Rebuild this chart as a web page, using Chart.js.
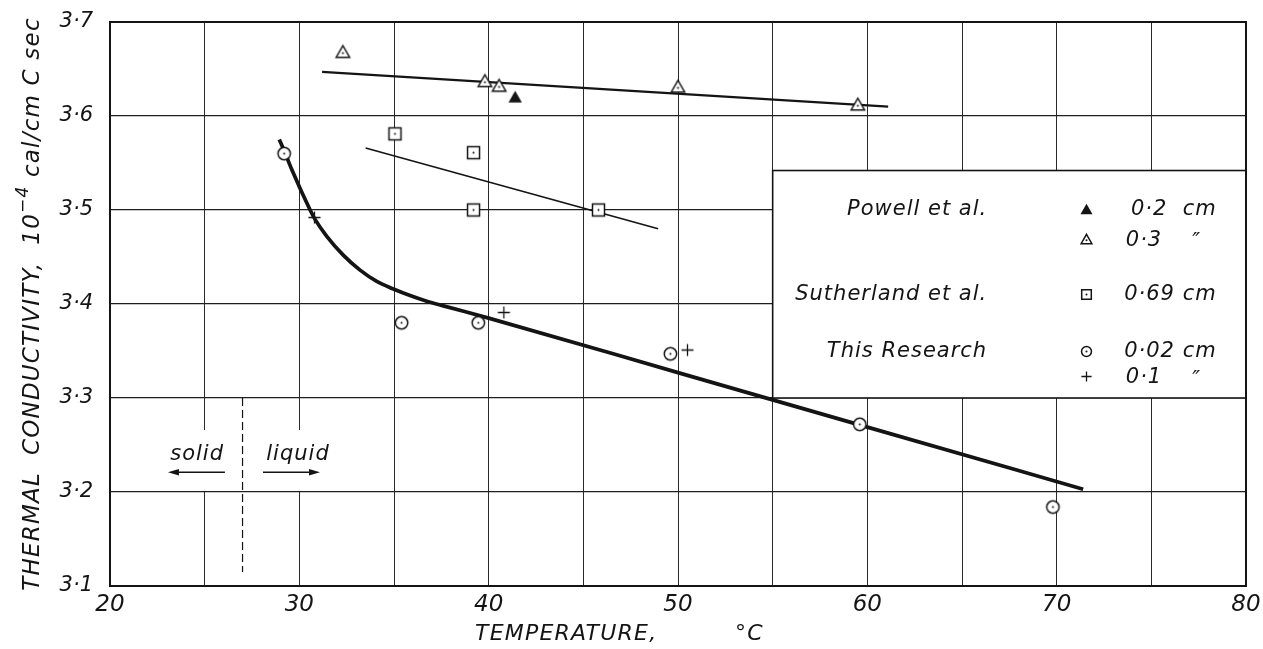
<!DOCTYPE html>
<html>
<head>
<meta charset="utf-8">
<script src="https://cdn.jsdelivr.net/npm/chart.js@4.4.1/dist/chart.umd.min.js"></script>
<style>
  html, body { margin: 0; padding: 0; background: #fff; }
  #wrap { width: 1263px; height: 649px; }
</style>
</head>
<body>
<div id="wrap"><canvas id="conductivityChart" width="1263" height="649"></canvas></div>
<script>
// temperature (C) vs thermal conductivity (10^-4 cal/cm C sec)
const powell03 = [[32.3, 3.668], [39.8, 3.637], [40.55, 3.632], [50.0, 3.631], [59.5, 3.612]];
const powell02 = [[41.4, 3.620]];
const sutherland069 = [[35.05, 3.581], [39.2, 3.561], [39.2, 3.500], [45.8, 3.500]];
const research002 = [[29.2, 3.560], [35.4, 3.380], [39.45, 3.380], [49.6, 3.347], [59.6, 3.272], [69.8, 3.184]];
const research01 = [[30.8, 3.492], [40.8, 3.391], [50.5, 3.351]];

// hand drawn fits
const powellFit = [[31.2, 3.647], [61.1, 3.610]];
const sutherlandFit = [[33.5, 3.566], [48.95, 3.480]];
const researchCurve = [[28.94, 3.575], [29.24, 3.561], [29.6, 3.543], [30.57, 3.500], [30.83, 3.490],
  [31.45, 3.472], [32.32, 3.452], [33.21, 3.436], [34.09, 3.424], [34.97, 3.416], [35.85, 3.409],
  [36.73, 3.403], [37.61, 3.398], [40, 3.385], [50, 3.327], [60, 3.269], [71.4, 3.203]];

const xTickLabels = ["20", "30", "40", "50", "60", "70", "80"];
const yTickLabels = ["3·1", "3·2", "3·3", "3·4", "3·5", "3·6", "3·7"];

const legendNames = ["Powell et al.", "Sutherland et al.", "This Research"];
const legendSizes = ["0·2  cm", "0·3", "0·69 cm", "0·02 cm", "0·1"];

const ink = "#141414";
const FAMILY = '"DejaVu Sans", sans-serif';

const toXY = arr => arr.map(p => ({ x: p[0], y: p[1] }));

// marker glyphs, drawn once onto small canvases
function makeMarker(kind, k) {
  const s = Math.ceil(18 * k) | 1;
  const c = document.createElement("canvas");
  c.width = s; c.height = s;
  const g = c.getContext("2d");
  const m = s / 2;
  g.strokeStyle = ink;
  g.fillStyle = "#fff";
  g.lineWidth = 1.5;
  g.beginPath();
  if (kind === "tri" || kind === "triFill") {
    g.moveTo(m, m - 6.5 * k);
    g.lineTo(m + 6.7 * k, m + 5.2 * k);
    g.lineTo(m - 6.7 * k, m + 5.2 * k);
    g.closePath();
  } else if (kind === "square") {
    g.rect(m - 6 * k, m - 6 * k, 12 * k, 12 * k);
  } else if (kind === "circle") {
    g.arc(m, m, 6.2 * k, 0, Math.PI * 2);
  }
  if (kind === "triFill") {
    g.fillStyle = ink;
    g.fill();
    return c;
  }
  if (kind === "cross") {
    g.lineWidth = 1.3;
    g.moveTo(m - 6 * k, m); g.lineTo(m + 6 * k, m);
    g.moveTo(m, m - 6 * k); g.lineTo(m, m + 6 * k);
    g.stroke();
    return c;
  }
  g.fill();
  g.stroke();
  // little dot in the middle
  g.fillStyle = ink;
  g.beginPath();
  g.arc(m, kind === "tri" ? m + 1 * k : m, 1, 0, Math.PI * 2);
  g.fill();
  return c;
}

const marks = {
  tri: makeMarker("tri", 1), triFill: makeMarker("triFill", 1), square: makeMarker("square", 1),
  circle: makeMarker("circle", 1), cross: makeMarker("cross", 1)
};
const keyMarks = {
  tri: makeMarker("tri", 0.8), triFill: makeMarker("triFill", 0.9), square: makeMarker("square", 0.8),
  circle: makeMarker("circle", 0.8), cross: makeMarker("cross", 0.85)
};

function arrow(ctx, x0, x1, yy) {
  const d = Math.sign(x1 - x0);
  ctx.beginPath();
  ctx.moveTo(x0, yy);
  ctx.lineTo(x1 - d * 6, yy);
  ctx.stroke();
  ctx.beginPath();
  ctx.moveTo(x1, yy);
  ctx.lineTo(x1 - d * 11, yy - 3.3);
  ctx.lineTo(x1 - d * 11, yy + 3.3);
  ctx.closePath();
  ctx.fill();
}

function putMark(ctx, img, cx, cy) {
  ctx.drawImage(img, Math.round(cx - img.width / 2), Math.round(cy - img.height / 2));
}

const paperDecor = {
  id: "paperDecor",
  beforeDraw(chart) {
    const ctx = chart.ctx;
    ctx.save();
    ctx.fillStyle = "#fff";
    ctx.fillRect(0, 0, chart.width, chart.height);
    ctx.restore();
  },
  beforeDatasetsDraw(chart) {
    const { ctx, scales: { x, y } } = chart;
    const px = v => x.getPixelForValue(v);
    const py = v => y.getPixelForValue(v);
    ctx.save();
    ctx.strokeStyle = ink;
    ctx.fillStyle = ink;

    // the grid is broken behind the solid / liquid note
    ctx.fillStyle = "#fff";
    ctx.fillRect(px(22.8), py(3.266), px(32.2) - px(22.8), py(3.2) - py(3.266) - 1);
    ctx.fillStyle = ink;

    // melting point
    ctx.lineWidth = 1.2;
    ctx.setLineDash([8, 4]);
    ctx.beginPath();
    ctx.moveTo(px(27), py(3.3));
    ctx.lineTo(px(27), py(3.115));
    ctx.stroke();
    ctx.setLineDash([]);

    ctx.font = "italic 21px " + FAMILY;
    ctx.letterSpacing = "1px";
    ctx.textAlign = "center";
    ctx.textBaseline = "middle";
    ctx.fillText("solid", px(24.6), py(3.240));
    ctx.fillText("liquid", px(29.93), py(3.240));
    ctx.lineWidth = 1.3;
    arrow(ctx, px(26.07), px(23.06), py(3.221));
    arrow(ctx, px(28.08), px(31.09), py(3.221));

    // key box
    const bx0 = px(55), bx1 = px(80), by0 = py(3.542), by1 = py(3.3);
    ctx.fillStyle = "#fff";
    ctx.fillRect(bx0, by0, bx1 - bx0, by1 - by0);
    ctx.lineWidth = 1.6;
    ctx.strokeRect(bx0, by0, bx1 - bx0, by1 - by0);
    ctx.fillStyle = ink;

    const nameX = px(66.33), symX = px(71.6), sizeR = px(78.45), sizeL = px(73.65), ditto = px(77.4);
    ctx.textAlign = "right";
    ctx.fillText(legendNames[0], nameX, py(3.500));
    ctx.fillText(legendNames[1], nameX, py(3.410));
    ctx.fillText(legendNames[2], nameX, py(3.349));
    ctx.fillText(legendSizes[0], sizeR, py(3.500));
    ctx.fillText(legendSizes[2], sizeR, py(3.410));
    ctx.fillText(legendSizes[3], sizeR, py(3.349));
    ctx.textAlign = "left";
    ctx.fillText(legendSizes[1], sizeL, py(3.468));
    ctx.fillText(legendSizes[4], sizeL, py(3.322));
    ctx.textAlign = "center";
    ctx.fillText("″", ditto, py(3.465));
    ctx.fillText("″", ditto, py(3.319));
    putMark(ctx, keyMarks.triFill, symX, py(3.501));
    putMark(ctx, keyMarks.tri, symX, py(3.469));
    putMark(ctx, keyMarks.square, symX, py(3.410));
    putMark(ctx, keyMarks.circle, symX, py(3.350));
    putMark(ctx, keyMarks.cross, symX, py(3.323));
    ctx.restore();
  },
  afterDraw(chart) {
    const { ctx, chartArea: a } = chart;
    ctx.save();
    ctx.strokeStyle = ink;
    ctx.lineWidth = 2;
    ctx.strokeRect(a.left, a.top, a.right - a.left, a.bottom - a.top);

    ctx.fillStyle = ink;
    ctx.font = "italic 22px " + FAMILY;
    ctx.letterSpacing = "1.2px";
    ctx.textBaseline = "middle";
    ctx.textAlign = "left";
    ctx.fillText("TEMPERATURE,", 475, 634);
    ctx.fillText("°C", 735, 634);

    // y title with the 10^-4 superscript
    const big = "italic 23px " + FAMILY, small = "italic 17px " + FAMILY;
    const p1 = "THERMAL  CONDUCTIVITY,  10", sup = "−4", p2 = " cal/cm C sec";
    ctx.letterSpacing = "1.2px";
    ctx.font = big;
    const w1 = ctx.measureText(p1).width, w3 = ctx.measureText(p2).width;
    ctx.font = small;
    const w2 = ctx.measureText(sup).width;
    const total = w1 + w2 + w3;
    ctx.translate(33, 304);
    ctx.rotate(-Math.PI / 2);
    let cx = -total / 2;
    ctx.font = big;
    ctx.fillText(p1, cx, 0);
    cx += w1;
    ctx.font = small;
    ctx.fillText(sup, cx, -9);
    cx += w2;
    ctx.font = big;
    ctx.fillText(p2, cx, 0);
    ctx.restore();
  }
};

const lineStyle = (data, width) => ({
  data: toXY(data), showLine: true, borderColor: ink, borderWidth: width,
  pointRadius: 0, fill: false, order: 2
});
const markStyle = (data, img) => ({
  data: toXY(data), showLine: false, pointStyle: img, pointRadius: 6, order: 1
});

const researchLine = lineStyle(researchCurve, 3.7);
researchLine.cubicInterpolationMode = "monotone";

new Chart(document.getElementById("conductivityChart"), {
  type: "scatter",
  data: {
    datasets: [
      markStyle(powell03, marks.tri),
      markStyle(powell02, marks.triFill),
      markStyle(sutherland069, marks.square),
      markStyle(research002, marks.circle),
      markStyle(research01, marks.cross),
      lineStyle(powellFit, 2.3),
      lineStyle(sutherlandFit, 1.7),
      researchLine
    ]
  },
  options: {
    responsive: false,
    animation: false,
    events: [],
    layout: { padding: { top: 22, right: 17, left: 0, bottom: 0 } },
    plugins: { legend: { display: false }, tooltip: { enabled: false } },
    scales: {
      x: {
        type: "linear", min: 20, max: 80,
        afterFit: s => { s.height = 63; s.paddingLeft = 0; s.paddingRight = 0; },
        ticks: {
          stepSize: 5, autoSkip: false, maxRotation: 0, padding: 5, color: ink,
          font: { family: FAMILY, size: 23, style: "italic" },
          callback: v => {
            const k = (v - 20) / 10;
            return Number.isInteger(k) ? xTickLabels[k] : "";
          }
        },
        grid: { color: "#2a2a2a", lineWidth: 1, drawTicks: false },
        border: { color: ink, width: 2 }
      },
      y: {
        type: "linear", min: 3.1, max: 3.7,
        afterFit: s => { s.width = 110; s.paddingTop = 0; s.paddingBottom = 0; },
        ticks: {
          stepSize: 0.1, autoSkip: false, padding: 17, color: ink,
          font: { family: FAMILY, size: 21, style: "italic" },
          callback: (v, i) => yTickLabels[i]
        },
        grid: { color: "#1e1e1e", lineWidth: 1.3, drawTicks: false },
        border: { color: ink, width: 2 }
      }
    }
  },
  plugins: [paperDecor]
});
</script>
</body>
</html>
